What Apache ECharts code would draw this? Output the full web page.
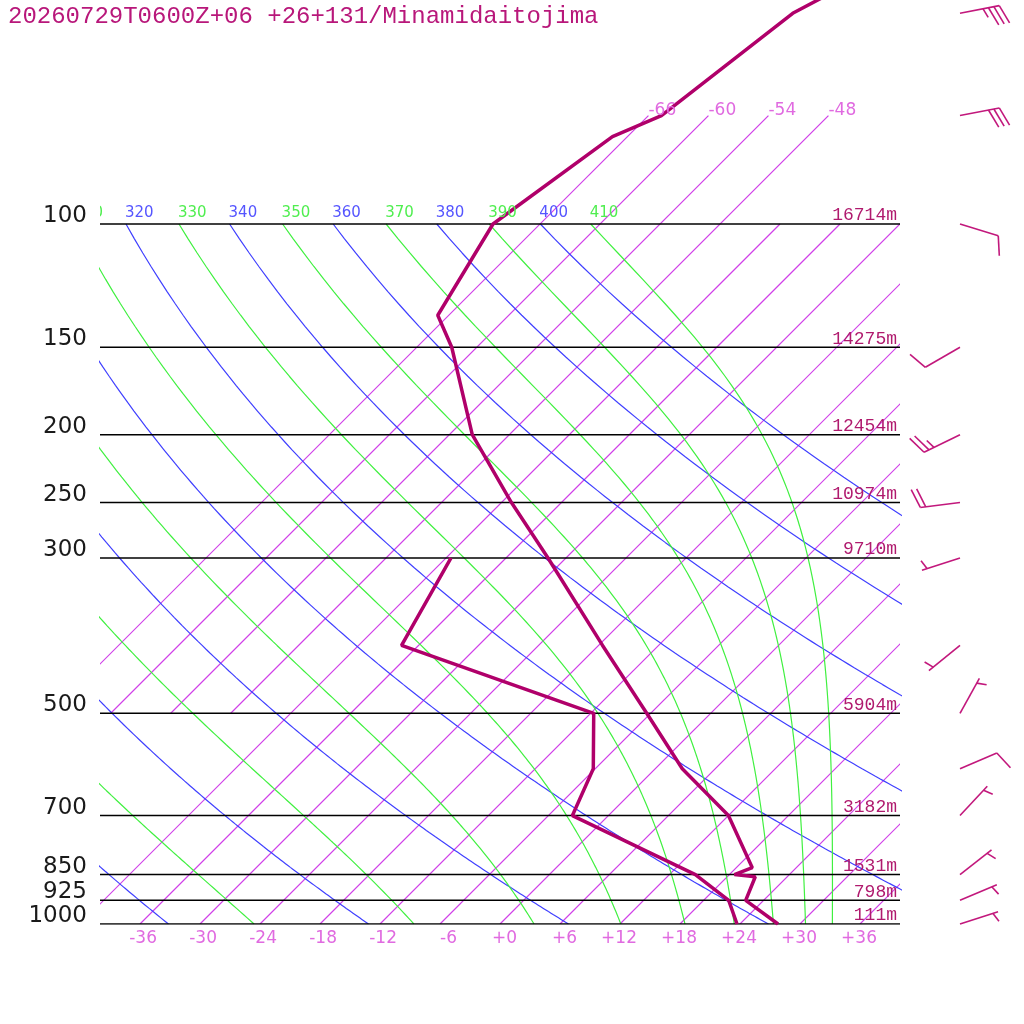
<!DOCTYPE html>
<html>
<head>
<meta charset="utf-8">
<script src="https://cdn.jsdelivr.net/npm/echarts@6/dist/echarts.min.js"></script>
<style>html,body{margin:0;padding:0;background:#fff}#chart{width:1024px;height:1024px}</style>
</head>
<body>
<div id="chart"></div>
<script>
// ---------------- DATA ----------------
const titleText = '20260729T0600Z+06 +26+131/Minamidaitojima';
const levelPressures = [1000, 925, 850, 700, 500, 300, 250, 200, 150, 100];
const levelLabels = ['1000', '925', '850', '700', '500', '300', '250', '200', '150', '100'];
const levelHeights = ['111m', '798m', '1531m', '3182m', '5904m', '9710m', '10974m', '12454m', '14275m', '16714m'];

const tempPressures = [1000, 925, 856, 850, 831, 700, 600, 500, 400, 300, 250, 200, 150, 135, 100, 75, 70, 50, 30];
const tempValues = [27.8, 22.2, 20.8, 18.5, 19.6, 12.0, 2.7, -6.4, -17.6, -31.8, -41.0, -51.7, -62.5, -67.1, -70.7, -67.5, -64.7, -61.8, -48.0];
const dewPressures = [1000, 925, 850, 700, 600, 500, 400, 300];
const dewValues = [23.7, 20.5, 14.6, -3.6, -6.2, -11.7, -37.7, -41.5];

const windPressures = [1000, 925, 850, 700, 600, 500, 400, 300, 250, 200, 150, 100, 70, 50];
const windDirections = [72, 67, 52, 43, 67, 29, 231, 252, 263, 244, 240, 107, 79, 79];
const windSpeeds = [5, 5, 5, 5, 10, 5, 5, 5, 20, 25, 10, 10, 30, 35];

const isothermsLower = [-42, -36, -30, -24, -18, -12, -6, 0, 6, 12, 18, 24, 30, 36];
const isothermsUpper = [-66, -60, -54, -48];
const isothermTickValues = [-36, -30, -24, -18, -12, -6, 0, 6, 12, 18, 24, 30, 36];
const isothermTickLabels = ['-36', '-30', '-24', '-18', '-12', '-6', '+0', '+6', '+12', '+18', '+24', '+30', '+36'];
const upperIsothermLabels = ['-66', '-60', '-54', '-48'];
const dryAdiabatThetas = [240, 260, 280, 300, 320, 340, 360, 380, 400];
const moistAdiabatThetaEs = [250, 270, 290, 310, 330, 350, 370, 390, 410];

// ---------------- LAYOUT / STYLE ----------------
const X_MIN = -40, X_MAX = 40;
const LP_TOP = 2 - 224 / 700, LP_BOT = 3;
const SKEW = 70;              // degrees of x-shift per decade of pressure
const BARB_X = 46;            // x-axis value of barb bases (right margin)
const KAPPA = 0.2857;
const COL_ISO = '#d040e8', COL_ISO_TXT = '#e06ae0';
const COL_DRY = '#4040ff', COL_MOIST = '#40f040';
const COL_PROF = '#b0006a', COL_TITLE = '#b8177a', COL_HGT = '#b01a6e', COL_BARB = '#c2187c';

function lp(p) { return Math.log10(p); }
function skewPt(t, p) { return [t + SKEW * (3 - lp(p)), lp(p)]; }

function satMix(Tk, p) {
  const tc = Tk - 273.15;
  const es = 6.112 * Math.exp(17.67 * tc / (tc + 243.5));
  if (es >= p * 0.9) return null;
  return 622 * es / (p - es);
}
function thetaE(Tk, p) {
  const r = satMix(Tk, p);
  if (r === null) return Infinity;
  return Tk * Math.pow(1000 / p, 0.2854 * (1 - 0.00028 * r)) * Math.exp((3.376 / Tk - 0.00254) * r * (1 + 0.00081 * r));
}
function moistT(the, p) {
  let lo = 140, hi = 340;
  for (let k = 0; k < 50; k++) {
    const mid = (lo + hi) / 2;
    if (thetaE(mid, p) > the) hi = mid; else lo = mid;
  }
  return (lo + hi) / 2 - 273.15;
}
function dryT(theta, p) { return theta * Math.pow(p / 1000, KAPPA) - 273.15; }

const curvePressures = [];
for (let p = 1000; p >= 100; p -= 5) curvePressures.push(p);

const series = [];
function lineSeries(data, color, width, z) {
  return { type: 'line', data: data, symbol: 'none', showSymbol: false, silent: true, clip: true, z: z || 2,
    color: color, itemStyle: { color: color },
    lineStyle: { color: color, width: width, opacity: 1 }, animation: false };
}

// Isotherms drawn as custom polylines (explicit stroke)
const isoSegments = [];
isothermsLower.forEach(t => isoSegments.push([t, 1000, 100]));
isothermsUpper.forEach(t => isoSegments.push([t, 500, 70]));
series.push({
  type: 'custom', clip: true, silent: true, z: 2, animation: false,
  data: isoSegments,
  renderItem: function (params, api) {
    const t = api.value(0), p1 = api.value(1), p2 = api.value(2);
    const a = api.coord(skewPt(t, p1)), b = api.coord(skewPt(t, p2));
    return { type: 'line', shape: { x1: a[0], y1: a[1], x2: b[0], y2: b[1] },
      style: { stroke: COL_ISO, lineWidth: 1.2, fill: null } };
  }
});
dryAdiabatThetas.forEach(th => series.push(lineSeries(curvePressures.map(p => skewPt(dryT(th, p), p)), COL_DRY, 1.2)));
moistAdiabatThetaEs.forEach(th => series.push(lineSeries(curvePressures.map(p => skewPt(moistT(th, p), p)), COL_MOIST, 1.2)));
levelPressures.forEach(p => series.push(lineSeries([[X_MIN, lp(p)], [X_MAX, lp(p)]], '#000', 1.5, 3)));

series.push(lineSeries(tempPressures.map((p, i) => skewPt(tempValues[i], p)), COL_PROF, 3.5, 5));
series.push(lineSeries(dewPressures.map((p, i) => skewPt(dewValues[i], p)), COL_PROF, 3.5, 5));

// Pressure labels (left) and height labels (right)
series.push({
  type: 'custom', clip: false, silent: true, z: 6, animation: false,
  data: levelPressures.map((p, i) => [X_MIN, lp(p), i]),
  renderItem: function (params, api) {
    const i = api.value(2);
    const c = api.coord([api.value(0), api.value(1)]);
    const c2 = api.coord([X_MAX, api.value(1)]);
    return { type: 'group', children: [
      { type: 'text', style: { text: levelLabels[i], x: c[0] - 13, y: c[1] - 8, align: 'right', verticalAlign: 'middle',
        font: '23px "DejaVu Sans"', fill: '#1a1a1a' } },
      { type: 'text', style: { text: levelHeights[i], x: c2[0] - 3, y: c2[1] - 8.5, align: 'right', verticalAlign: 'middle',
        font: '18px "Liberation Mono"', fill: COL_HGT } }
    ] };
  }
});

// Bottom isotherm tick labels
series.push({
  type: 'custom', clip: false, silent: true, z: 6, animation: false,
  data: isothermTickValues.map((t, i) => [t, LP_BOT, i]),
  renderItem: function (params, api) {
    const c = api.coord([api.value(0), api.value(1)]);
    return { type: 'text', style: { text: isothermTickLabels[api.value(2)], x: c[0] + 17, y: c[1] + 15, align: 'right',
      verticalAlign: 'middle', font: '17px "DejaVu Sans"', fill: COL_ISO_TXT } };
  }
});

// Upper isotherm labels (at 70 hPa end)
series.push({
  type: 'custom', clip: false, silent: true, z: 6, animation: false,
  data: isothermsUpper.map((t, i) => [skewPt(t, 70)[0], lp(70), i]),
  renderItem: function (params, api) {
    const c = api.coord([api.value(0), api.value(1)]);
    return { type: 'text', style: { text: upperIsothermLabels[api.value(2)], x: c[0], y: c[1] - 5, align: 'left',
      verticalAlign: 'middle', font: '17px "DejaVu Sans"', fill: COL_ISO_TXT } };
  }
});

// Theta / theta-e labels at 100 hPa (clipped to plot area)
const thetaLabelData = [];
dryAdiabatThetas.forEach(th => thetaLabelData.push([skewPt(dryT(th, 100), 100)[0], 2, th, 0]));
moistAdiabatThetaEs.forEach(th => thetaLabelData.push([skewPt(moistT(th, 100), 100)[0], 2, th, 1]));
series.push({
  type: 'custom', clip: true, silent: true, z: 6, animation: false,
  data: thetaLabelData,
  renderItem: function (params, api) {
    const c = api.coord([api.value(0), api.value(1)]);
    return { type: 'text', style: { text: String(api.value(2)), x: c[0] - 1, y: c[1] - 11, align: 'left',
      verticalAlign: 'middle', font: '15px "DejaVu Sans"', fill: api.value(3) ? '#50ee50' : '#5555ff' } };
  }
});

// Wind barbs
series.push({
  type: 'custom', clip: false, silent: true, z: 6, animation: false,
  data: windPressures.map((p, i) => [BARB_X, lp(p), windDirections[i], windSpeeds[i]]),
  renderItem: function (params, api) {
    const base = api.coord([api.value(0), api.value(1)]);
    const d = api.value(2) * Math.PI / 180;
    const spd = api.value(3);
    const L = 40, FULL = 20, HALF = 10, SP = 5.5, ROT = 70 * Math.PI / 180;
    const sx = Math.sin(d), sy = -Math.cos(d);
    const bx = sx * Math.cos(ROT) - sy * Math.sin(ROT);
    const by = sx * Math.sin(ROT) + sy * Math.cos(ROT);
    const ex = base[0] + sx * L, ey = base[1] + sy * L;
    const style = { stroke: COL_BARB, lineWidth: 1.6 };
    const kids = [{ type: 'line', shape: { x1: base[0], y1: base[1], x2: ex, y2: ey }, style: style }];
    let full = Math.floor(spd / 10);
    let half = Math.round((spd - full * 10) / 5);
    let k = 0;
    for (let f = 0; f < full; f++, k++) {
      const x0 = ex - sx * SP * k, y0 = ey - sy * SP * k;
      kids.push({ type: 'line', shape: { x1: x0, y1: y0, x2: x0 + bx * FULL, y2: y0 + by * FULL }, style: style });
    }
    if (half) {
      if (k === 0) k = 1;
      const x0 = ex - sx * SP * k, y0 = ey - sy * SP * k;
      kids.push({ type: 'line', shape: { x1: x0, y1: y0, x2: x0 + bx * HALF, y2: y0 + by * HALF }, style: style });
    }
    return { type: 'group', children: kids };
  }
});

const chart = echarts.init(document.getElementById('chart'), null, { renderer: 'canvas' });
chart.setOption({
  animation: false,
  backgroundColor: '#fff',
  title: { text: titleText, left: 8, top: 5, padding: 0,
    textStyle: { fontFamily: 'Liberation Mono', fontSize: 24, fontWeight: 'normal', color: COL_TITLE } },
  grid: { left: 100, right: 124, top: 0, bottom: 100 },
  xAxis: { type: 'value', min: X_MIN, max: X_MAX, show: false },
  yAxis: { type: 'value', min: LP_TOP, max: LP_BOT, inverse: true, show: false },
  series: series
});
</script>
</body>
</html>
